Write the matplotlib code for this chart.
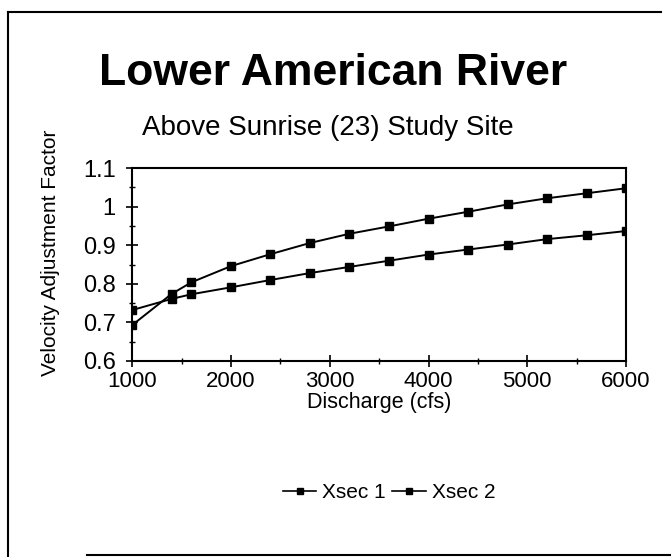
import matplotlib.pyplot as plt
from matplotlib.ticker import MultipleLocator
from matplotlib.lines import Line2D

plt.rcParams['font.family'] = ['Liberation Sans', 'DejaVu Sans']

# discharge (cfs) and velocity adjustment factors per cross section
discharge = [1000, 1400, 1600, 2000, 2400, 2800, 3200, 3600, 4000, 4400, 4800, 5200, 5600, 6000]
xsec1 = [0.693, 0.774, 0.804, 0.846, 0.877, 0.906, 0.930, 0.949, 0.969, 0.987, 1.006, 1.022, 1.035, 1.048]
xsec2 = [0.732, 0.761, 0.773, 0.791, 0.810, 0.828, 0.844, 0.860, 0.876, 0.889, 0.902, 0.916, 0.926, 0.937]
series_names = ['Xsec 1', 'Xsec 2']

fig = plt.figure(figsize=(6.71, 5.57), dpi=100)
ax = fig.add_axes([0.197, 0.352, 0.736, 0.346])

for vals, name in zip([xsec1, xsec2], series_names):
    ax.plot(discharge, vals, color='black', linewidth=1.4, marker='s',
            markersize=6, markerfacecolor='black', label=name)

ax.set_xlim(1000, 6000)
ax.set_ylim(0.6, 1.1)
ax.xaxis.set_major_locator(MultipleLocator(1000))
ax.xaxis.set_minor_locator(MultipleLocator(500))
ax.yaxis.set_minor_locator(MultipleLocator(0.05))
ax.set_yticks([0.6, 0.7, 0.8, 0.9, 1.0, 1.1])
ax.set_yticklabels(['0.6', '0.7', '0.8', '0.9', '1', '1.1'])
ax.tick_params(which='major', direction='inout', length=8, width=1.2,
               labelsize=16, top=False, right=False, pad=3)
ax.tick_params(axis='y', which='major', labelsize=17, pad=8)
ax.tick_params(which='minor', direction='inout', length=5, width=1.0,
               top=False, right=False)
for s in ax.spines.values():
    s.set_linewidth(1.5)

ax.set_xlabel('Discharge (cfs)', fontsize=15.5, labelpad=0)
ax.set_ylabel('Velocity Adjustment Factor', fontsize=15)
ax.yaxis.set_label_coords(-0.146, 0.56)

fig.text(0.497, 0.868, 'Lower American River', ha='center', va='center',
         fontsize=32, fontweight='bold')
fig.text(0.489, 0.771, 'Above Sunrise (23) Study Site', ha='center', va='center',
         fontsize=20)

handles = [Line2D([], [], color='black', linewidth=1.2, marker='s', markersize=4)
           for _ in series_names]
fig.legend(handles, series_names, loc='center', bbox_to_anchor=(0.58, 0.116),
           ncol=2, frameon=False, fontsize=15, handlelength=1.6,
           handletextpad=0.3, columnspacing=0.3)

# page border lines
fig.add_artist(Line2D([0.012, 0.012], [0.0, 0.978], color='black', linewidth=1.5))
fig.add_artist(Line2D([0.012, 0.985], [0.978, 0.978], color='black', linewidth=1.5))
fig.add_artist(Line2D([0.13, 1.0], [0.004, 0.004], color='black', linewidth=1.5))

fig.savefig('out.png', dpi=100)
